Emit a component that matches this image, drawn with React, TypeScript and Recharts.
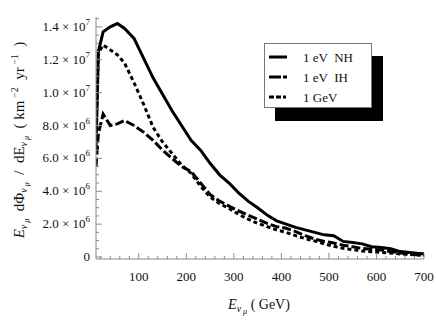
import { Line, LineChart, XAxis, YAxis } from "recharts";

// energy grid (GeV) and fluxes in units of 1e6 km^-2 yr^-1
const energy = [
  10, 15, 25, 40, 55, 70, 90, 110, 130, 150, 170, 190, 210, 230, 250, 270, 290, 310, 330,
  350, 370, 390, 410, 430, 450, 470, 490, 510, 530, 550, 570, 590, 610, 630, 650, 670, 690, 700,
];
const fluxNH = [
  6.5, 12.5, 13.7, 14.0, 14.2, 13.9, 13.3, 12.1, 10.9, 9.9, 8.9, 8.0, 7.1, 6.5, 5.7, 5.0, 4.5,
  3.9, 3.4, 3.0, 2.55, 2.2, 2.0, 1.8, 1.65, 1.5, 1.35, 1.3, 0.95, 0.88, 0.8, 0.63, 0.58, 0.5,
  0.33, 0.27, 0.22, 0.2,
];
const fluxIH = [
  5.5, 7.5, 8.7, 8.0, 8.1, 8.3, 8.0, 7.6, 7.1, 6.5, 6.0, 5.5, 5.2, 4.5, 3.8, 3.4, 3.1, 2.8,
  2.55, 2.3, 2.05, 1.85, 1.75, 1.55, 1.3, 1.1, 0.95, 0.85, 0.72, 0.62, 0.52, 0.47, 0.42, 0.33,
  0.25, 0.18, 0.13, 0.12,
];
const flux1GeV = [
  7.5, 12.4, 12.9, 12.6, 12.3, 11.8, 10.6, 9.3, 7.9, 7.0, 6.3, 5.6, 5.1, 4.3, 3.65, 3.25, 2.95,
  2.6, 2.3, 2.05, 1.85, 1.65, 1.5, 1.3, 1.12, 0.98, 0.8, 0.65, 0.53, 0.45, 0.36, 0.32, 0.28,
  0.24, 0.19, 0.15, 0.12, 0.11,
];

const xTicks = [
  20, 40, 60, 80, 100, 120, 140, 160, 180, 200, 220, 240, 260, 280, 300, 320, 340, 360, 380,
  400, 420, 440, 460, 480, 500, 520, 540, 560, 580, 600, 620, 640, 660, 680, 700,
];
const yTicks = [
  0, 0.5e6, 1e6, 1.5e6, 2e6, 2.5e6, 3e6, 3.5e6, 4e6, 4.5e6, 5e6, 5.5e6, 6e6, 6.5e6, 7e6, 7.5e6,
  8e6, 8.5e6, 9e6, 9.5e6, 1e7, 1.05e7, 1.1e7, 1.15e7, 1.2e7, 1.25e7, 1.3e7, 1.35e7, 1.4e7,
  1.45e7,
];
const yMajor = [0, 2e6, 4e6, 6e6, 8e6, 1e7, 1.2e7, 1.4e7];
const yMantissa = ["0", "2.0", "4.0", "6.0", "8.0", "1.0", "1.2", "1.4"];
const yExponent = ["", "6", "6", "6", "6", "7", "7", "7"];

const data = energy.map((e, i) => ({
  e,
  nh: fluxNH[i] * 1e6,
  ih: fluxIH[i] * 1e6,
  gev: flux1GeV[i] * 1e6,
}));

const frame = "#8a8a8a";
const font = "'Liberation Serif', 'Times New Roman', serif";
const xDomain = [10, 700];
const yDomain = [-0.12e6, 14.6e6];

const BottomTick = ({ x, y, payload }: any) => {
  const major = payload.value % 100 === 0;
  return (
    <g>
      <line x1={x} y1={y} x2={x} y2={y - (major ? 6 : 3)} stroke={frame} />
      {major && (
        <text x={x} y={y + 22} textAnchor="middle" fontSize={13} fontFamily={font} fill="#111">
          {payload.value}
        </text>
      )}
    </g>
  );
};

const TopTick = ({ x, y, payload }: any) => {
  const major = payload.value % 100 === 0;
  return <line x1={x} y1={y} x2={x} y2={y + (major ? 6 : 3)} stroke={frame} />;
};

const LeftTick = ({ x, y, payload }: any) => {
  const idx = yMajor.indexOf(payload.value);
  const major = idx >= 0;
  return (
    <g>
      <line x1={x} y1={y} x2={x + (major ? 6 : 3)} y2={y} stroke={frame} />
      {major && (
        <text x={x - 6} y={y + 4} textAnchor="end" fontSize={13} fontFamily={font} fill="#111">
          {yMantissa[idx]}
          {yExponent[idx] && (
            <>
              <tspan> × 10</tspan>
              <tspan dy={-6} fontSize={9}>
                {yExponent[idx]}
              </tspan>
            </>
          )}
        </text>
      )}
    </g>
  );
};

const RightTick = ({ x, y, payload }: any) => {
  const major = yMajor.includes(payload.value);
  return <line x1={x} y1={y} x2={x - (major ? 6 : 3)} y2={y} stroke={frame} />;
};

const NuMu = () => (
  <>
    <tspan dy={3} fontSize={10} fontStyle="italic">
      ν
    </tspan>
    <tspan dy={2} fontSize={8} fontStyle="italic">
      {" μ"}
    </tspan>
  </>
);

export default function App() {
  return (
    <div style={{ position: "absolute", left: 0, top: 0, width: 436, height: 328, background: "#fff" }}>
      <LineChart width={436} height={328} data={data} margin={{ top: 17, right: 12, bottom: 0, left: 0 }}>
        <XAxis
          dataKey="e"
          type="number"
          domain={xDomain}
          ticks={xTicks}
          interval={0}
          height={69}
          tickSize={0}
          tickMargin={0}
          axisLine={{ stroke: frame }}
          tick={<BottomTick />}
          allowDataOverflow
        />
        <XAxis
          xAxisId="top"
          orientation="top"
          dataKey="e"
          type="number"
          domain={xDomain}
          ticks={xTicks}
          interval={0}
          height={0}
          tickSize={0}
          tickMargin={0}
          axisLine={{ stroke: frame }}
          tick={<TopTick />}
          allowDataOverflow
        />
        <YAxis
          type="number"
          domain={yDomain}
          ticks={yTicks}
          interval={0}
          width={96}
          tickSize={0}
          tickMargin={0}
          axisLine={{ stroke: frame }}
          tick={<LeftTick />}
          allowDataOverflow
        />
        <YAxis
          yAxisId="right"
          orientation="right"
          type="number"
          domain={yDomain}
          ticks={yTicks}
          interval={0}
          width={0}
          tickSize={0}
          tickMargin={0}
          axisLine={{ stroke: frame }}
          tick={<RightTick />}
          allowDataOverflow
        />
        <Line dataKey="gev" stroke="#000" strokeWidth={3} strokeDasharray="4 3" dot={false} isAnimationActive={false} />
        <Line dataKey="ih" stroke="#000" strokeWidth={3} strokeDasharray="9 3" dot={false} isAnimationActive={false} />
        <Line dataKey="nh" stroke="#000" strokeWidth={3} dot={false} isAnimationActive={false} />
      </LineChart>
      <svg
        width={436}
        height={328}
        style={{ position: "absolute", left: 0, top: 0, pointerEvents: "none" }}
        fontFamily={font}
      >
        <text
          transform="translate(24,140) rotate(-90)"
          textAnchor="middle"
          fontSize={15}
          fill="#111"
          style={{ whiteSpace: "pre" }}
        >
          <tspan fontStyle="italic">E</tspan>
          <NuMu />
          <tspan dy={-5}>{"  dΦ"}</tspan>
          <NuMu />
          <tspan dy={-5}>{"  /  dE"}</tspan>
          <NuMu />
          <tspan dy={-5}>{"  ( km"}</tspan>
          <tspan dy={-6} fontSize={10}>
            {" −2"}
          </tspan>
          <tspan dy={6}>{"  yr"}</tspan>
          <tspan dy={-6} fontSize={10}>
            {" −1"}
          </tspan>
          <tspan dy={6}>{"  )"}</tspan>
        </text>
        <text x={259} y={309} textAnchor="middle" fontSize={14} fill="#111" style={{ whiteSpace: "pre" }}>
          <tspan fontStyle="italic">E</tspan>
          <NuMu />
          <tspan dy={-5}>{" ( GeV)"}</tspan>
        </text>
        <rect x={275} y={56} width={108} height={65} fill="#000" />
        <rect x={264.5} y={43.5} width={107} height={64} fill="#fff" stroke="#777" />
        <line x1={269} y1={57} x2={287} y2={57} stroke="#000" strokeWidth={3} />
        <line x1={269} y1={77} x2={287} y2={77} stroke="#000" strokeWidth={3} strokeDasharray="12 2 4 2" />
        <line x1={269} y1={97} x2={287} y2={97} stroke="#000" strokeWidth={3} strokeDasharray="5 2 5 2 3 2" />
        <text x={303} y={62} fontSize={13} fill="#111" style={{ whiteSpace: "pre" }}>
          1 eV  NH
        </text>
        <text x={303} y={82} fontSize={13} fill="#111" style={{ whiteSpace: "pre" }}>
          1 eV  IH
        </text>
        <text x={303} y={102} fontSize={13} fill="#111" style={{ whiteSpace: "pre" }}>
          1 GeV
        </text>
      </svg>
    </div>
  );
}
